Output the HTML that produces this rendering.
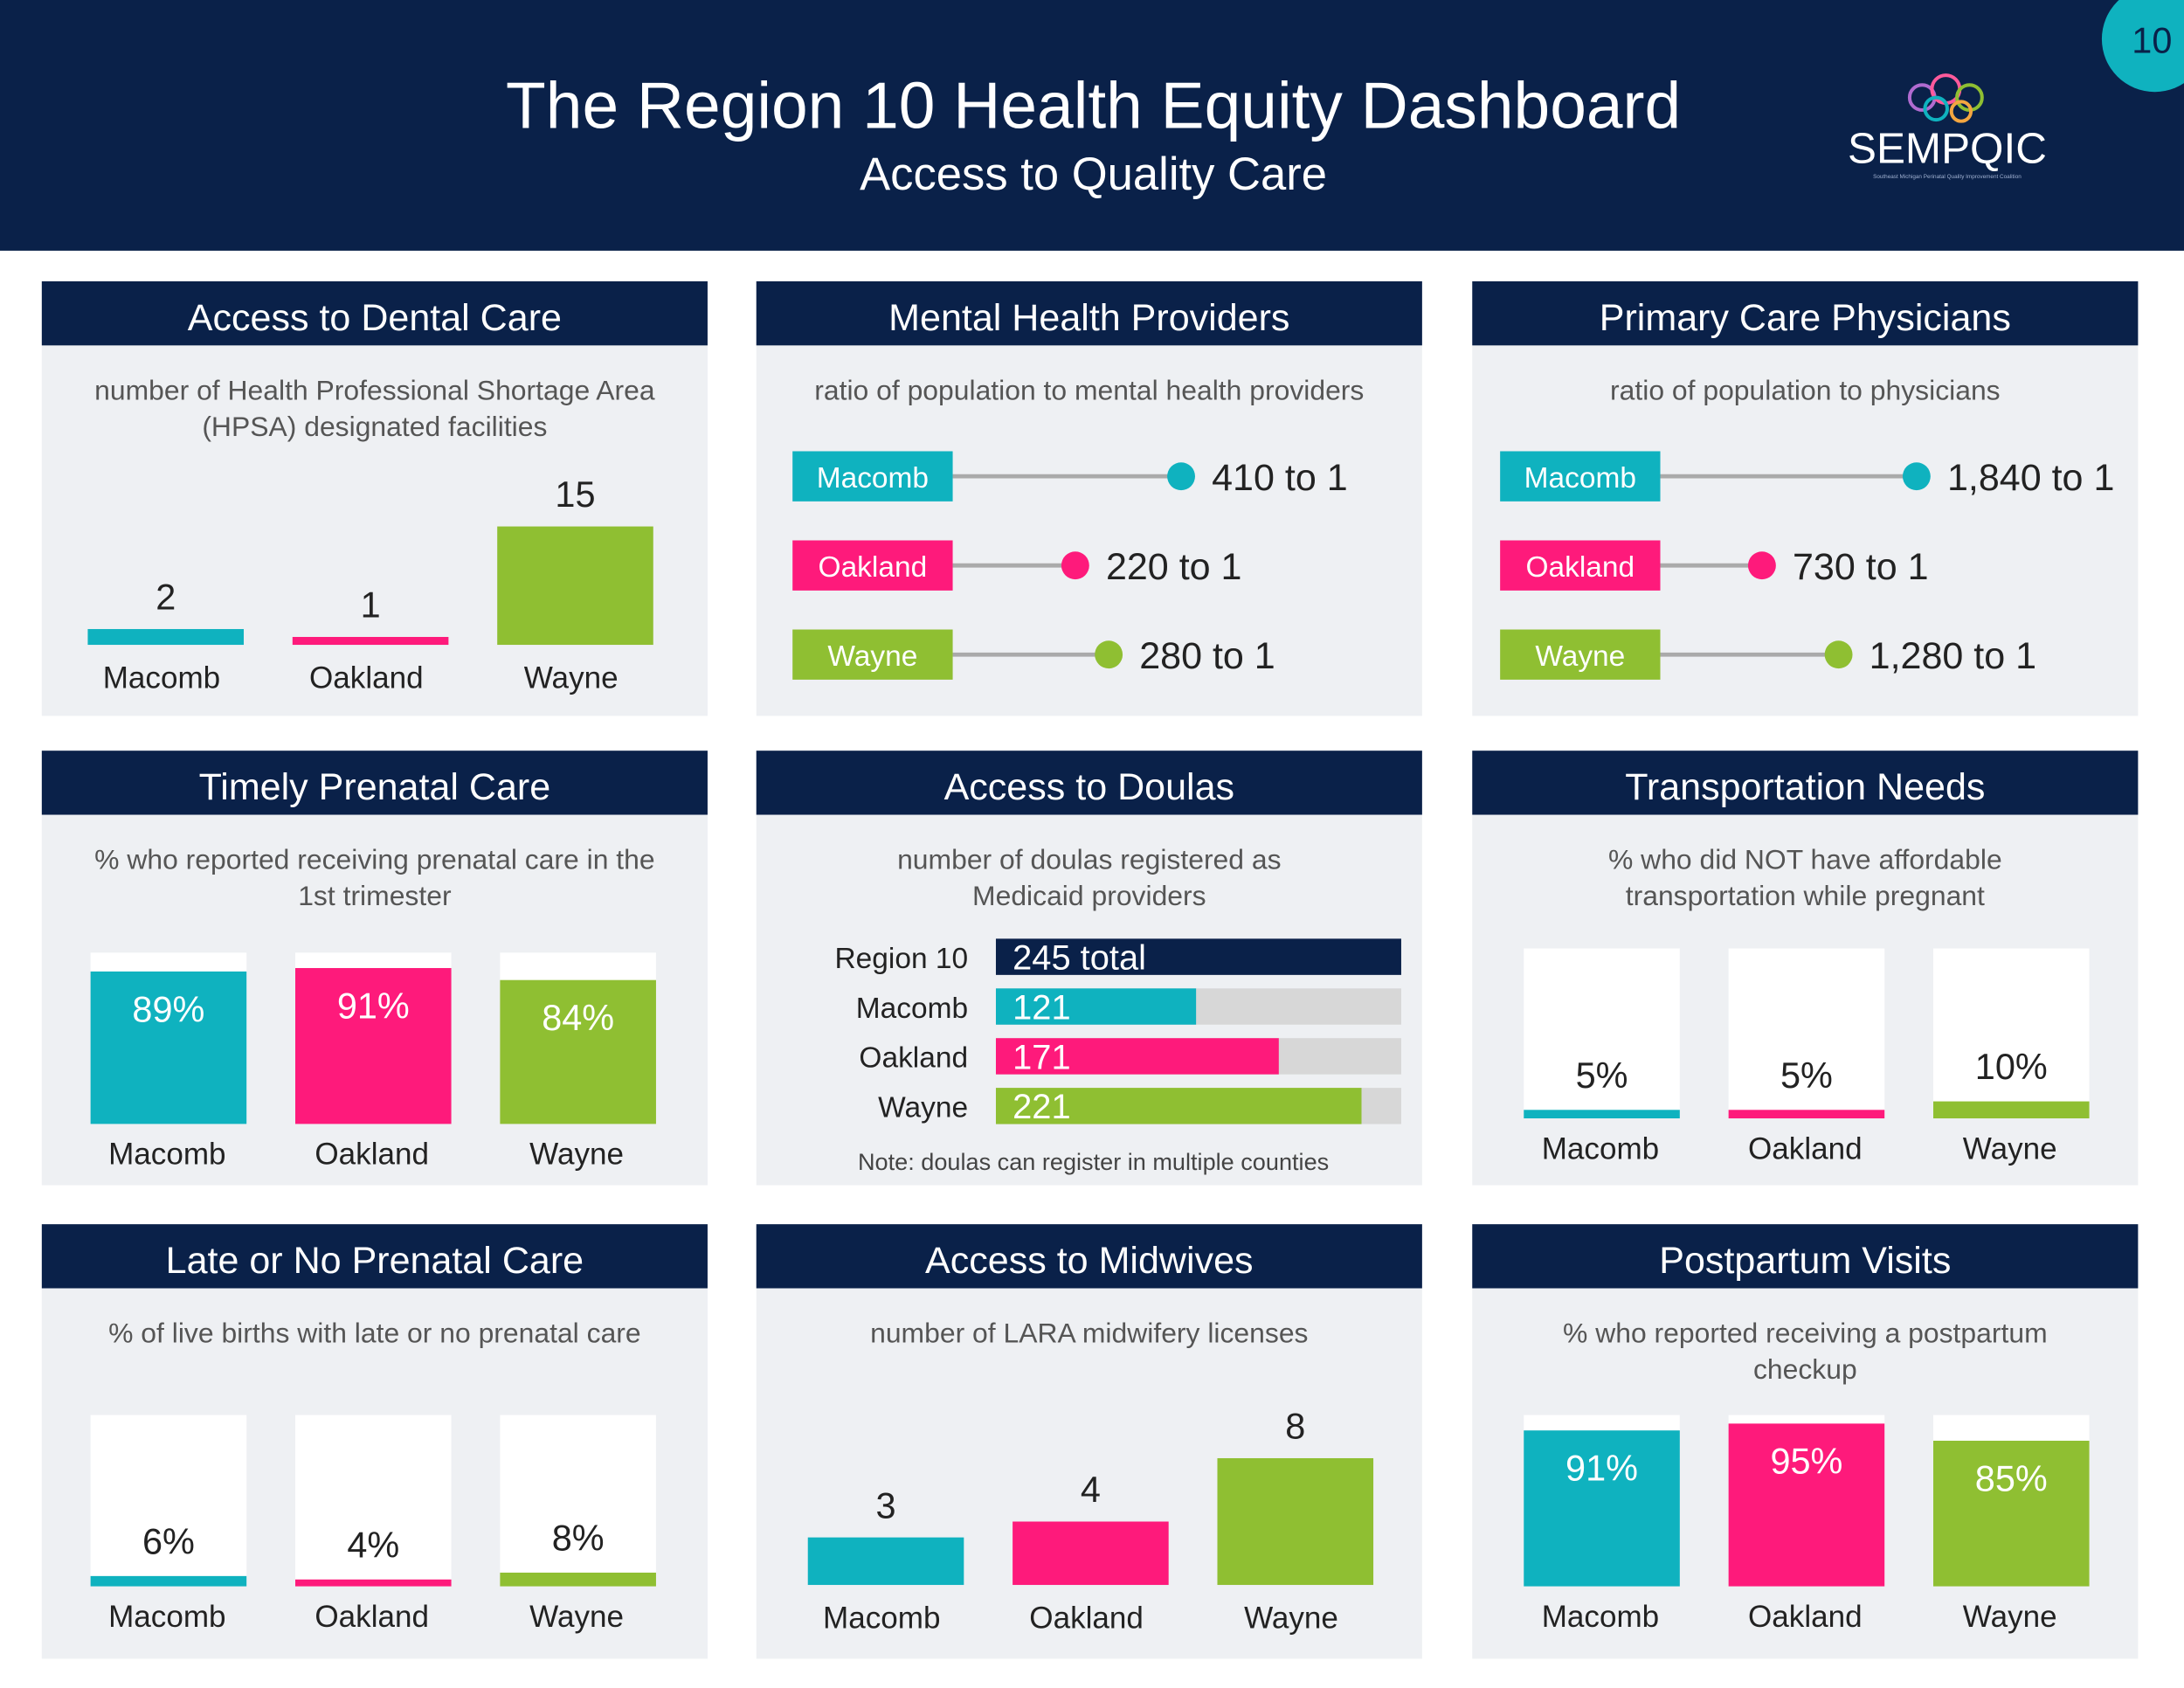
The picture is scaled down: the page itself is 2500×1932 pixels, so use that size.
<!DOCTYPE html>
<html><head><meta charset="utf-8">
<style>
html,body{margin:0;padding:0;background:#fff;}
svg{display:block;font-family:"Liberation Sans",sans-serif;}
</style></head>
<body>
<svg id="chart" width="2500" height="1932" viewBox="0 0 1568 1212" preserveAspectRatio="none" xmlns="http://www.w3.org/2000/svg">
<rect x="0" y="0" width="1568" height="1212" fill="#ffffff"/>
<g>
<rect x="0" y="0" width="1568" height="180" fill="#0a2149"/>
<text x="785" y="92" text-anchor="middle" fill="#fff" font-size="47">The Region 10 Health Equity Dashboard</text>
<text x="785" y="136" text-anchor="middle" fill="#fff" font-size="33">Access to Quality Care</text>
<circle cx="1547" cy="28" r="38" fill="#0fb2bf"/>
<text x="1545" y="38" text-anchor="middle" fill="#0a2149" font-size="26">10</text>
<g>
<circle cx="1380" cy="70" r="9" fill="none" stroke="#b06bd0" stroke-width="2.5"/>
<circle cx="1397" cy="64" r="10" fill="none" stroke="#ff5a9b" stroke-width="2.5"/>
<circle cx="1414" cy="70" r="9" fill="none" stroke="#8fbf32" stroke-width="2.5"/>
<circle cx="1390" cy="78" r="8" fill="none" stroke="#0fb2bf" stroke-width="2.5"/>
<circle cx="1408" cy="80" r="7" fill="none" stroke="#f4a640" stroke-width="2.5"/>
<text x="1398" y="117" text-anchor="middle" fill="#fff" font-size="31">SEMPQIC</text>
<text x="1398" y="128" text-anchor="middle" fill="#9fb0d0" font-size="4">Southeast Michigan Perinatal Quality Improvement Coalition</text>
</g>
</g>
<g id="panels"></g>
</svg>
<script>
const NS="http://www.w3.org/2000/svg";
const root=document.getElementById('panels');
const counties=["Macomb","Oakland","Wayne"];
const countyColors=["#0fb2bf","#fe1a7b","#8fbf32"];
// data arrays
const dentalValues=[2,1,15];
const mentalRatios=[410,220,280];
const mentalLabels=["410 to 1","220 to 1","280 to 1"];
const primaryRatios=[1840,730,1280];
const primaryLabels=["1,840 to 1","730 to 1","1,280 to 1"];
const prenatalPct=[89,91,84];
const doulaCategories=["Region 10","Macomb","Oakland","Wayne"];
const doulaValues=[245,121,171,221];
const doulaLabels=["245 total","121","171","221"];
const transportPct=[5,5,10];
const latePct=[6,4,8];
const midwifeValues=[3,4,8];
const postpartumPct=[91,95,85];

function el(tag,attrs,parent,text){const e=document.createElementNS(NS,tag);for(const k in attrs)e.setAttribute(k,attrs[k]);if(text!==undefined)e.textContent=text;(parent||root).appendChild(e);return e;}
const colX=[30,543,1057];const rowY=[202,539,879];const PW=478;
function panel(c,r,title,sub,name){
  const x=colX[c],y=rowY[r];
  const g=el('g',{},root);
  
  
  el('rect',{x:x,y:y,width:PW,height:312,fill:'#eef0f3'},g);
  el('rect',{x:x,y:y,width:PW,height:46,fill:'#0a2149'},g);
  const t=el('text',{x:x+PW/2,y:y+35,'text-anchor':'middle',fill:'#fff','font-size':27},g,title);
  
  
  sub.forEach((s,i)=>{const st=el('text',{x:x+PW/2,y:y+85+i*26,'text-anchor':'middle',fill:'#555','font-size':20},g,s);
    
    });
  return {g,x,y};
}
const BW=112;
function valueBars(p,vals,bottom,unit,name,off){
  vals.forEach((v,i)=>{const cx=p.x+off+i*147;const h=v*unit;
    const b=el('rect',{x:cx-BW/2,y:bottom-h,width:BW,height:h,fill:countyColors[i]},p.g);
    
    
    const vt=el('text',{x:cx,y:bottom-h-14,'text-anchor':'middle',fill:'#222','font-size':26},p.g,String(v));
    
    
    const lt=el('text',{x:cx-3,y:bottom+31,'text-anchor':'middle',fill:'#222','font-size':22},p.g,counties[i]);
    
    });
}
function pctBoxes(p,vals,top,H,inside,name,off){
  vals.forEach((v,i)=>{const cx=p.x+off+i*147;const h=v/100*H;const bottom=top+H;
    const bx=el('rect',{x:cx-BW/2,y:top,width:BW,height:H,fill:'#fff'},p.g);
    
    
    const b=el('rect',{x:cx-BW/2,y:bottom-h,width:BW,height:h,fill:countyColors[i]},p.g);
    
    
    const vt=inside?el('text',{x:cx,y:bottom-h+36,'text-anchor':'middle',fill:'#fff','font-size':26},p.g,v+'%')
                   :el('text',{x:cx,y:bottom-h-16,'text-anchor':'middle',fill:'#222','font-size':26},p.g,v+'%');
    
    
    const lt=el('text',{x:cx-1,y:bottom+29,'text-anchor':'middle',fill:'#222','font-size':22},p.g,counties[i]);
    
    });
}
function lollipop(p,vals,labels,scale,name,loff){
  const lx=p.x+loff,lw=115;const x0=lx+lw;
  vals.forEach((v,i)=>{const cy=p.y+140+i*64;const dx=x0+v*scale;
    const ln=el('line',{x1:x0,y1:cy,x2:dx,y2:cy,stroke:'#aaa','stroke-width':3},p.g);
    
    
    const lb=el('rect',{x:lx,y:cy-18,width:lw,height:36,fill:countyColors[i]},p.g);
    
    
    const lt=el('text',{x:lx+lw/2,y:cy+8,'text-anchor':'middle',fill:'#fff','font-size':21},p.g,counties[i]);
    
    
    const d=el('circle',{cx:dx,cy:cy,r:10,fill:countyColors[i]},p.g);
    
    
    const vt=el('text',{x:dx+22,y:cy+10,fill:'#222','font-size':27},p.g,labels[i]);
    
    });
}
// Row 1
let p=panel(0,0,"Access to Dental Care",["number of Health Professional Shortage Area","(HPSA) designated facilities"],'dental');
valueBars(p,dentalValues,463,85/15,'dental',89);
p=panel(1,0,"Mental Health Providers",["ratio of population to mental health providers"],'mental-health');
lollipop(p,mentalRatios,mentalLabels,0.4,'mental-health',26);
p=panel(2,0,"Primary Care Physicians",["ratio of population to physicians"],'primary-care');
lollipop(p,primaryRatios,primaryLabels,0.1,'primary-care',20);
// Row 2
p=panel(0,1,"Timely Prenatal Care",["% who reported receiving prenatal care in the","1st trimester"],'timely-prenatal');
pctBoxes(p,prenatalPct,684,123,true,'timely-prenatal',91);
p=panel(1,1,"Access to Doulas",["number of doulas registered as","Medicaid providers"],'doulas');
(function(){const x0=715,W=291,max=245;const dcol=["#0a2149","#0fb2bf","#fe1a7b","#8fbf32"];
  doulaCategories.forEach((c,i)=>{const y=674+i*35.7;
    const tr=el('rect',{x:x0,y:y,width:W,height:26,fill:'#d7d7d7'},p.g);
    
    
    const b=el('rect',{x:x0,y:y,width:doulaValues[i]/max*W,height:26,fill:dcol[i]},p.g);
    
    
    const vt=el('text',{x:x0+12,y:y+22,fill:'#fff','font-size':25},p.g,doulaLabels[i]);
    
    
    const ct=el('text',{x:695,y:y+21,'text-anchor':'end',fill:'#222','font-size':21},p.g,c);
    
    });
  const n=el('text',{x:785,y:840,'text-anchor':'middle',fill:'#444','font-size':17},p.g,"Note: doulas can register in multiple counties");
  
  })();
p=panel(2,1,"Transportation Needs",["% who did NOT have affordable","transportation while pregnant"],'transportation');
pctBoxes(p,transportPct,681,122,false,'transportation',93);
// Row 3
p=panel(0,2,"Late or No Prenatal Care",["% of live births with late or no prenatal care"],'late-prenatal');
pctBoxes(p,latePct,1016,123,false,'late-prenatal',91);
p=panel(1,2,"Access to Midwives",["number of LARA midwifery licenses"],'midwives');
valueBars(p,midwifeValues,1138,91/8,'midwives',93);
p=panel(2,2,"Postpartum Visits",["% who reported receiving a postpartum","checkup"],'postpartum');
pctBoxes(p,postpartumPct,1016,123,true,'postpartum',93);
</script>
</body></html>
